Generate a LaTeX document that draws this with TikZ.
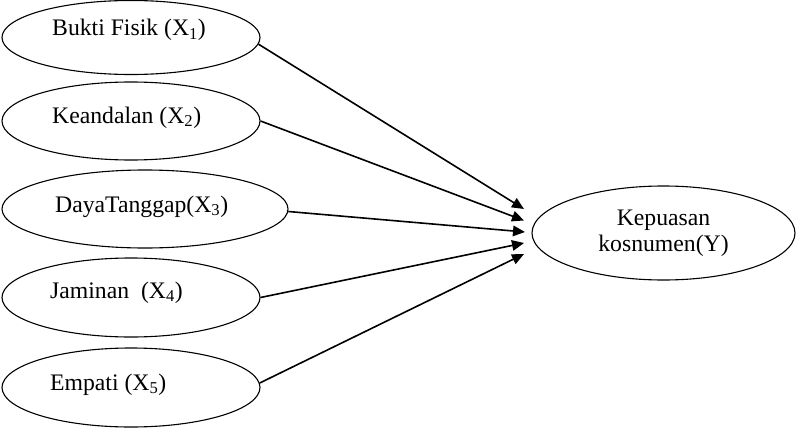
\documentclass[tikz,border=0pt]{standalone}
\usepackage{fontspec}
\setmainfont{Liberation Serif}
\usetikzlibrary{shapes.geometric,arrows.meta}
\tikzset{
  oval/.style={ellipse, draw=black, line width=1.1pt, inner sep=0pt},
  lbl/.style={inner sep=0pt, font=\fontsize{23.7}{26}\selectfont, anchor=base west},
  conn/.style={draw=black, line width=1.6pt, -{Triangle[length=12pt,width=10.5pt]}}
}
\begin{document}
\begin{tikzpicture}[x=1pt,y=-1pt]
\useasboundingbox (0,0) rectangle (797,428);
\node[oval, minimum width=258pt, minimum height=74pt] (e1) at (131,37.5) {};
\node[oval, minimum width=258pt, minimum height=78pt] (e2) at (131,121) {};
\node[oval, minimum width=286pt, minimum height=78pt] (e3) at (145,209) {};
\node[oval, minimum width=258pt, minimum height=79pt] (e4) at (131,297.5) {};
\node[oval, minimum width=258pt, minimum height=79pt] (e5) at (131,387.5) {};
\node[oval, minimum width=263pt, minimum height=94pt, align=center,
      font=\fontsize{23.7}{26}\selectfont] (y) at (663.5,233) {Kepuasan\\kosnumen(Y)};
\node[lbl] (l1) at (52,36) {Bukti Fisik (X\textsubscript{1})};
\node[lbl] (l2) at (52,123) {Keandalan (X\textsubscript{2})};
\node[lbl] (l3) at (55,212) {DayaTanggap(X\textsubscript{3})};
\node[lbl] (l4) at (50,298) {Jaminan\ \ (X\textsubscript{4})};
\node[lbl] (l5) at (50,390) {Empati (X\textsubscript{5})};
\coordinate (t1) at (524,209);
\coordinate (t2) at (524,220.5);
\coordinate (t3) at (525,232);
\coordinate (t4) at (524,243);
\coordinate (t5) at (524,254);
\draw[conn] (e1.-3) -- (t1);
\draw[conn] (e2.east) -- (t2);
\draw[conn] (e3.-1) -- (t3);
\draw[conn] (e4.east) -- (t4);
\draw[conn] (e5.2) -- (t5);
\end{tikzpicture}
\end{document}
